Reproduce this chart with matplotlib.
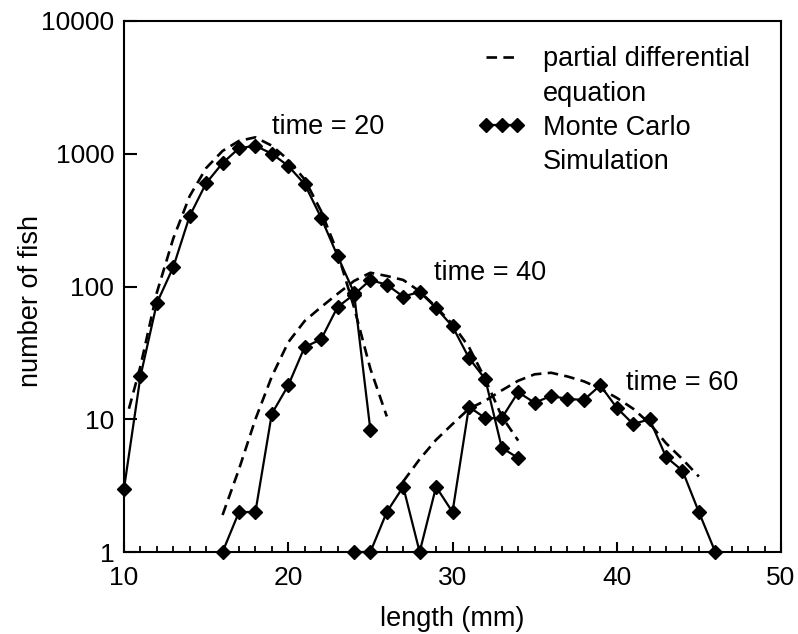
import matplotlib
matplotlib.use("Agg")
import matplotlib.pyplot as plt
from matplotlib.lines import Line2D
from matplotlib.ticker import FixedLocator, NullLocator, FixedFormatter, MultipleLocator

plt.rcParams['font.family'] = ['Liberation Sans', 'DejaVu Sans']

# ---- data ----
# Monte Carlo simulation
t20_x = [10, 11, 12, 13, 14, 15, 16, 17, 18, 19, 20, 21, 22, 23, 24, 25]
t20_mc = [3.0, 21, 75, 140, 340, 600, 850, 1100, 1150, 1000, 810, 590, 330, 170, 90, 8.3]

t40_x = [16, 17, 18, 19, 20, 21, 22, 23, 24, 25, 26, 27, 28, 29, 30, 31, 32, 33, 34]
t40_mc = [1, 2.0, 2.0, 11, 18, 35, 40, 70, 87, 112, 103, 84, 91, 69, 50, 29, 20, 6.1, 5.1]

t60_x = [24, 25, 26, 27, 28, 29, 30, 31, 32, 33, 34, 35, 36, 37, 38, 39, 40, 41, 42, 43, 44, 45, 46]
t60_mc = [1, 1, 2.0, 3.1, 1, 3.1, 2.0, 12.4, 10.2, 10.2, 16, 13.3, 15, 14.2, 14, 18, 12.2, 9.2, 10, 5.2, 4.1, 2.0, 1]

# partial differential equation
p20_x = [10.3, 11, 12, 13, 14, 15, 16, 17, 18, 19, 20, 21, 22, 23, 24, 25, 26]
p20_y = [12, 25, 90, 230, 480, 780, 1050, 1250, 1330, 1150, 900, 640, 370, 180, 70, 24, 10.5]

p40_x = [16, 17, 18, 19, 20, 21, 22, 23, 24, 25, 26, 27, 28, 29, 30, 31, 32, 33, 34]
p40_y = [1.9, 4.2, 10, 21, 38, 55, 70, 88, 110, 127, 120, 112, 92, 70, 52, 35, 20, 10.5, 6.9]

p60_x = [27, 28, 29, 30, 31, 32, 33, 34, 35, 36, 37, 38, 39, 40, 41, 42, 43, 44, 45]
p60_y = [3.4, 5.0, 7.0, 9.2, 12, 13.8, 16.5, 19.5, 21.8, 22.4, 21, 19.3, 17, 14.5, 12, 9.3, 6.6, 5.0, 3.7]

y_ticks = [1, 10, 100, 1000, 10000]
y_tick_labels = ['1', '10', '100', '1000', '10000']
x_ticks = [10, 20, 30, 40, 50]
x_tick_labels = ['10', '20', '30', '40', '50']

labels = [("time = 20", 19.0, 1590), ("time = 40", 28.9, 126), ("time = 60", 40.55, 18.8)]
legend_lines = ['partial differential', 'equation', 'Monte Carlo', 'Simulation']

# ---- figure ----
fig = plt.figure(figsize=(7.98, 6.34), dpi=100)
ax = fig.add_axes([124/798, 1-552/634, (781-124)/798, (552-21)/634])

dash_kw = dict(color='black', lw=1.9, dashes=(4, 2.4))
mc_kw = dict(color='black', lw=1.6, marker='D', ms=7, clip_on=False, zorder=3)

pde_line, = ax.plot(p20_x, p20_y, **dash_kw)
ax.plot(p40_x, p40_y, **dash_kw)
ax.plot(p60_x, p60_y, **dash_kw)

mc_line, = ax.plot(t20_x, t20_mc, **mc_kw)
ax.plot(t40_x, t40_mc, **mc_kw)
ax.plot(t60_x, t60_mc, **mc_kw)

ax.set_yscale('log')
ax.set_xlim(10, 50)
ax.set_ylim(1, 10000)

ax.yaxis.set_major_locator(FixedLocator(y_ticks))
ax.yaxis.set_major_formatter(FixedFormatter(y_tick_labels))
ax.yaxis.set_minor_locator(NullLocator())
ax.xaxis.set_major_locator(FixedLocator(x_ticks))
ax.xaxis.set_major_formatter(FixedFormatter(x_tick_labels))
ax.xaxis.set_minor_locator(MultipleLocator(1))

ax.tick_params(axis='both', which='both', direction='in', top=False, right=False,
               labelsize=19, width=1.5, color='black')
ax.tick_params(axis='y', which='major', length=9, pad=7)
ax.tick_params(axis='x', which='major', length=7.5, pad=10)
ax.tick_params(axis='x', which='minor', length=4, width=1.3)

for s in ax.spines.values():
    s.set_linewidth(1.5)

ax.set_xlabel('length (mm)', fontsize=19.5)
ax.set_ylabel('number of fish', fontsize=19.5)
ax.xaxis.set_label_coords(0.5, (552-606)/531)
ax.xaxis.label.set_va('top')
ax.yaxis.set_label_coords(-0.122, (552-301)/531)

for txt, lx, ly in labels:
    ax.text(lx, ly, txt, fontsize=19.5, va='center', ha='left')

blank = Line2D([], [], linestyle='none', marker=None)
leg = ax.legend([pde_line, blank, mc_line, blank], legend_lines,
                loc='upper left', bbox_to_anchor=(0.539, 0.952), frameon=False,
                fontsize=19.5, numpoints=3, handlelength=1.75, handletextpad=0.65,
                labelspacing=0.30, borderpad=0, borderaxespad=0)

fig.savefig('out.png', dpi=100)
